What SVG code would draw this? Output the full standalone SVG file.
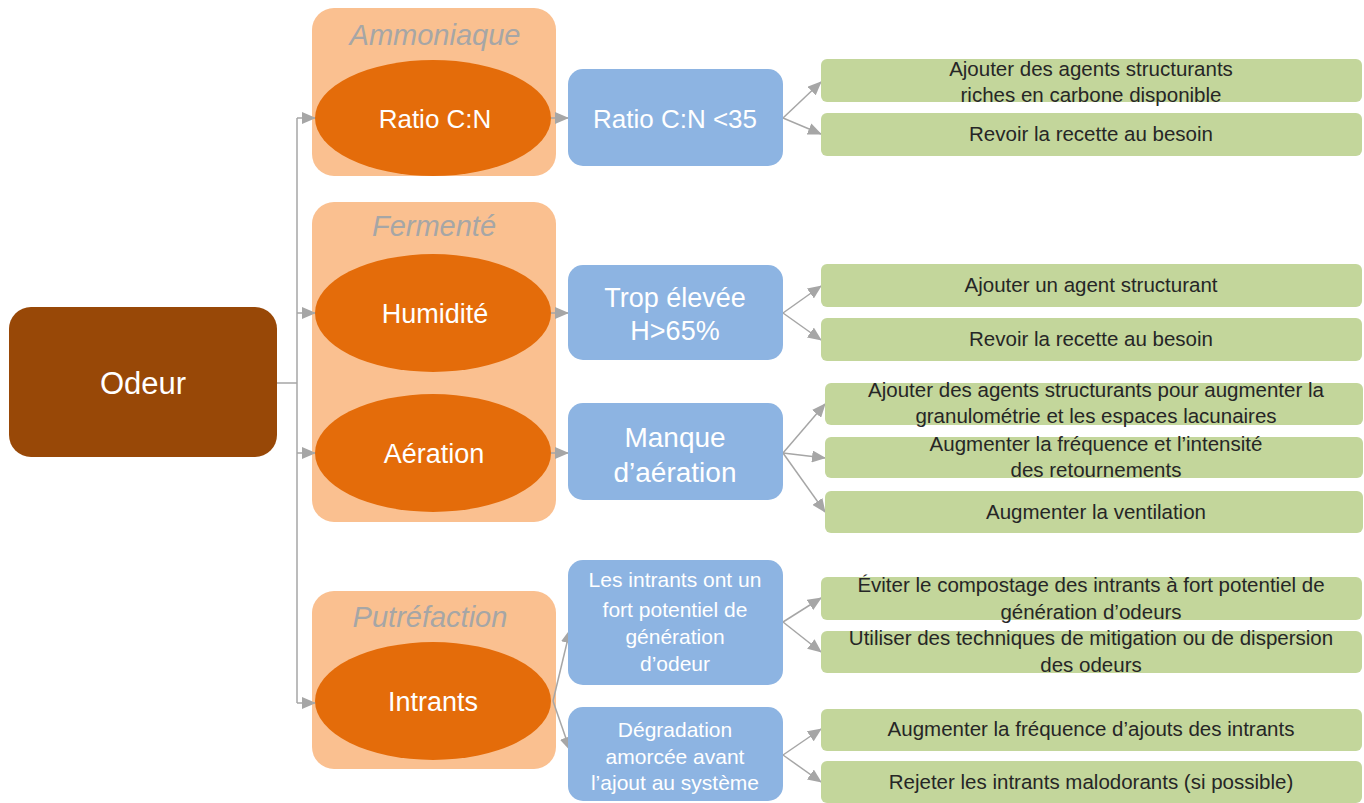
<svg xmlns="http://www.w3.org/2000/svg" width="1364" height="803" viewBox="0 0 1364 803">
<defs>
<marker id="arr" markerUnits="userSpaceOnUse" markerWidth="14" markerHeight="12" refX="13" refY="6" orient="auto">
<path d="M0,0 L14,6 L0,12 Z" fill="#A6A6A6"/>
</marker>
<style>
.t{font-family:"Liberation Sans",Arial,sans-serif;text-anchor:middle}
.w{fill:#FFFFFF}
.g{fill:#262626;font-size:20.5px}
.title{fill:#A6A6A6;font-size:29px;font-style:italic}
.bg{fill:#FAC090}
.ell{fill:#E46C0A}
.blue{fill:#8DB4E2}
.green{fill:#C3D69B}
.c{fill:none;stroke:#A6A6A6;stroke-width:1.5}
.ca{fill:none;stroke:#A6A6A6;stroke-width:1.5;marker-end:url(#arr)}
</style>
</defs>
<rect width="1364" height="803" fill="#FFFFFF"/>

<g id="group-ammoniaque">
<rect class="bg" x="312" y="8" width="244" height="168" rx="22"/>
<text class="t title" x="435" y="45">Ammoniaque</text>
</g>
<g id="group-fermente">
<rect class="bg" x="312" y="202" width="244" height="320" rx="22"/>
<text class="t title" x="434" y="236">Fermenté</text>
</g>
<g id="group-putrefaction">
<rect class="bg" x="312" y="591" width="244" height="178" rx="22"/>
<text class="t title" x="430" y="627">Putréfaction</text>
</g>

<g id="connectors">
<path class="c" d="M277,383 H297 M297,118 V703"/>
<path class="ca" d="M297,118 H315"/>
<path class="ca" d="M297,313 H315"/>
<path class="ca" d="M297,453 H315"/>
<path class="ca" d="M297,703 H315"/>
<path class="ca" d="M551,118 H568"/>
<path class="ca" d="M551,313 H568"/>
<path class="ca" d="M551,453 H568"/>
<path class="ca" d="M553,701 L570,630"/>
<path class="ca" d="M553,701 L570,750"/>
<path class="ca" d="M783,118 L821,82"/>
<path class="ca" d="M783,118 L821,134"/>
<path class="ca" d="M783,313 L821,286"/>
<path class="ca" d="M783,313 L821,340"/>
<path class="ca" d="M783,453 L825,404"/>
<path class="ca" d="M783,453 L825,458"/>
<path class="ca" d="M783,453 L825,512"/>
<path class="ca" d="M783,622 L821,598"/>
<path class="ca" d="M783,622 L821,652"/>
<path class="ca" d="M783,755 L821,729"/>
<path class="ca" d="M783,755 L821,782"/>
</g>

<g id="odeur">
<rect x="9" y="307" width="268" height="150" rx="22" fill="#984807"/>
<text class="t w" x="143" y="394" font-size="31">Odeur</text>
</g>

<g id="ratio-cn">
<ellipse class="ell" cx="433" cy="118" rx="118" ry="58"/>
<text class="t w" x="435" y="128" font-size="26">Ratio C:N</text>
</g>
<g id="humidite">
<ellipse class="ell" cx="433" cy="313" rx="118" ry="59"/>
<text class="t w" x="435" y="323" font-size="27">Humidité</text>
</g>
<g id="aeration">
<ellipse class="ell" cx="433" cy="453" rx="118" ry="59"/>
<text class="t w" x="434" y="463" font-size="27">Aération</text>
</g>
<g id="intrants">
<ellipse class="ell" cx="433" cy="701" rx="118" ry="59"/>
<text class="t w" x="433" y="711" font-size="27">Intrants</text>
</g>

<g id="blue-ratio">
<rect class="blue" x="568" y="69" width="215" height="97" rx="15"/>
<text class="t w" x="675" y="128" font-size="26">Ratio C:N &lt;35</text>
</g>
<g id="blue-trop-elevee">
<rect class="blue" x="568" y="265" width="215" height="95" rx="15"/>
<text class="t w" x="675" y="307" font-size="27">Trop élevée</text>
<text class="t w" x="675" y="340" font-size="27">H&gt;65%</text>
</g>
<g id="blue-manque">
<rect class="blue" x="568" y="403" width="215" height="97" rx="15"/>
<text class="t w" x="675" y="447" font-size="28">Manque</text>
<text class="t w" x="675" y="482" font-size="28">d’aération</text>
</g>
<g id="blue-intrants-potentiel">
<rect class="blue" x="568" y="560" width="215" height="125" rx="15"/>
<text class="t w" x="675" y="587" font-size="21">Les intrants ont un</text>
<text class="t w" x="675" y="617" font-size="21">fort potentiel de</text>
<text class="t w" x="675" y="644" font-size="21">génération</text>
<text class="t w" x="675" y="671" font-size="21">d’odeur</text>
</g>
<g id="blue-degradation">
<rect class="blue" x="568" y="707" width="215" height="94" rx="15"/>
<text class="t w" x="675" y="737" font-size="21">Dégradation</text>
<text class="t w" x="675" y="764" font-size="21">amorcée avant</text>
<text class="t w" x="675" y="790" font-size="21">l’ajout au système</text>
</g>

<g id="green-1">
<rect class="green" x="821" y="59" width="541" height="43" rx="6"/>
<text class="t g" x="1091" y="76">Ajouter des agents structurants</text>
<text class="t g" x="1091" y="102">riches en carbone disponible</text>
</g>
<g id="green-2">
<rect class="green" x="821" y="113" width="541" height="43" rx="6"/>
<text class="t g" x="1091" y="141">Revoir la recette au besoin</text>
</g>
<g id="green-3">
<rect class="green" x="821" y="264" width="541" height="43" rx="6"/>
<text class="t g" x="1091" y="292">Ajouter un agent structurant</text>
</g>
<g id="green-4">
<rect class="green" x="821" y="318" width="541" height="43" rx="6"/>
<text class="t g" x="1091" y="346">Revoir la recette au besoin</text>
</g>
<g id="green-5">
<rect class="green" x="825" y="383" width="538" height="42" rx="6"/>
<text class="t g" x="1096" y="397">Ajouter des agents structurants pour augmenter la</text>
<text class="t g" x="1096" y="423">granulométrie et les espaces lacunaires</text>
</g>
<g id="green-6">
<rect class="green" x="825" y="437" width="538" height="41" rx="6"/>
<text class="t g" x="1096" y="451">Augmenter la fréquence et l’intensité</text>
<text class="t g" x="1096" y="477">des retournements</text>
</g>
<g id="green-7">
<rect class="green" x="825" y="491" width="538" height="42" rx="6"/>
<text class="t g" x="1096" y="519">Augmenter la ventilation</text>
</g>
<g id="green-8">
<rect class="green" x="821" y="577" width="541" height="43" rx="6"/>
<text class="t g" x="1091" y="592">Éviter le compostage des intrants à fort potentiel de</text>
<text class="t g" x="1091" y="619">génération d’odeurs</text>
</g>
<g id="green-9">
<rect class="green" x="821" y="631" width="541" height="42" rx="6"/>
<text class="t g" x="1091" y="645">Utiliser des techniques de mitigation ou de dispersion</text>
<text class="t g" x="1091" y="672">des odeurs</text>
</g>
<g id="green-10">
<rect class="green" x="821" y="709" width="541" height="42" rx="6"/>
<text class="t g" x="1091" y="736">Augmenter la fréquence d’ajouts des intrants</text>
</g>
<g id="green-11">
<rect class="green" x="821" y="761" width="541" height="42" rx="6"/>
<text class="t g" x="1091" y="789">Rejeter les intrants malodorants (si possible)</text>
</g>
</svg>
